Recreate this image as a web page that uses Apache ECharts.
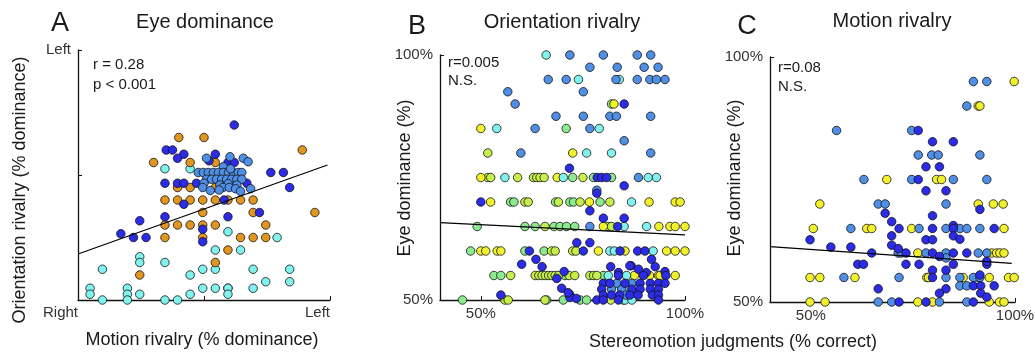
<!DOCTYPE html>
<html><head><meta charset="utf-8">
<script src="https://cdn.jsdelivr.net/npm/echarts@6/dist/echarts.min.js"></script>
<style>html,body{margin:0;padding:0;background:#fff}#c{width:1035px;height:354px}</style>
</head><body><div id="c"></div>
<script>
// ---------- Panel A: Eye dominance (x: motion rivalry %, y: orientation rivalry %) ----------
const aOrange = [[40,65],[50,65],[89,60],[30,55],[44.5,55],[54.5,55],[39.5,45],[44.5,45],[54.5,45],[34.5,40],[39.5,40],[44.5,40],[49.5,40],[54.5,40],[59.5,40],[64.5,40],[69.5,40],[49.5,35],[69.5,35],[94,35],[34.5,30],[39.5,30],[44.5,30],[49.5,30],[54.5,30],[74.5,30],[34.5,25],[49.5,25],[64.5,25],[69.5,25],[74.5,25],[59.5,20],[54.5,15],[24.5,10]];
const aDarkBlue = [[62,70],[35,60],[37.5,60],[42,58.3],[54.5,58.3],[39.5,56.7],[52,55.7],[59.5,55],[62,55],[76.5,51],[81.5,51],[34.5,46.7],[39.5,46.7],[42,46.7],[47,46.7],[67,46.7],[84,45],[58,40],[42,38.3],[72,35],[59.5,33.3],[34.5,33.3],[24.5,31.7],[49.5,28.3],[17,26.5],[22,25],[27,25],[49.5,23.3],[59.5,50]];
const aMedBlue = [[51,56.7],[60.3,57.3],[65.6,56.7],[67.5,55.3],[57.7,53.3],[47.7,51],[49.7,51],[51.7,51],[53.7,51],[55.7,51],[57.7,51],[59.7,51],[61.6,51],[63.6,51],[65,51],[51,48.3],[53,48.3],[55,48.3],[57,48.3],[59,48.3],[61,48.3],[63,48.3],[65,48.3],[50,46.7],[56.3,46],[59.6,46.5],[63,46],[49.5,45],[57.5,45],[60,45],[62.5,44.5],[68.5,44.5],[52.5,43.8],[56,44],[64.5,43.5],[60.5,52.5]];
const aCyan = [[34.5,52.5],[44.5,52.5],[59.5,27.3],[79,25],[54.5,20],[64.5,20],[24.5,17.3],[24.5,15],[34.5,15],[9.7,12.3],[49.5,12.3],[54.5,12.3],[69.5,12.3],[84,12.3],[44.5,10],[74.5,7.3],[84,7.3],[4.8,4.7],[19.6,4.7],[49.5,4.7],[54.5,4.7],[59.5,4.7],[59.5,4.7],[69.5,4.7],[4.8,2.3],[19.6,2.3],[24.5,2.3],[44.5,2.3],[59.5,2.3],[9.7,0],[19.6,0],[34.5,0],[39.5,0]];
const aFit = [[0,18.4],[99,54]];

// ---------- Panel B: Orientation rivalry (x: stereomotion % correct, y: eye dominance %) ----------
const bYellow = [[82.6,90],[50,85],[72.5,80],[50,75],[68.7,75],[52.4,70],[76.6,70],[91.2,70],[97.6,70],[98.8,70],[80,65],[93.6,65],[96.3,65],[97.6,65],[100,65],[50,60],[51.2,60],[54,60],[54.9,60],[78.8,60],[85.3,60],[95.5,60],[97.6,60],[100,60],[87.6,55],[91.3,55],[93.5,55],[93.9,55],[97.6,55]];
const bYellowGreen = [[51.7,80],[51.7,75],[52.4,75],[59,75],[62.9,75],[63.7,75],[64.5,75],[65.5,75],[75,75],[60.8,70],[61.6,70],[69,70],[74.3,70],[81.6,70],[65.7,65],[81.2,65],[82,65],[67.3,60],[68.2,60],[72.5,60],[73.3,60],[57.3,55],[63.3,55],[64.2,55],[65,55],[65.8,55],[66.6,55],[67.4,55],[68.2,55],[69,55],[71.6,55],[73,55],[76.7,55],[77.6,55],[78.4,55],[55.9,50],[56.7,50],[65.7,50],[81.8,50]];
const bGreen = [[82,90],[70.9,85],[72.5,75],[77.6,75],[82,75],[57.3,70],[58.1,70],[68.3,70],[71.8,70],[72.7,70],[79.2,70],[49.1,65],[60.8,65],[63.3,65],[67.9,65],[69.4,65],[71,65],[73,65],[47.5,60],[60.8,60],[65.5,60],[53.2,55],[54.9,55],[70.6,55],[80,55],[45.5,50],[66.1,50],[70.2,50],[74.3,50],[75.9,50]];
const bCyan = [[66,100],[73.9,95],[83.9,95],[53.9,85],[79,85],[75.9,80],[82,80],[55.9,75],[70.2,75],[91,75],[93,75],[86.9,70],[85.1,65],[90.6,65],[81.6,60],[82.7,60],[92.2,60],[81.2,55],[85.7,55],[84.9,50],[85.3,50],[87,50],[85.3,52.2]];
const bMedBlue = [[71.8,100],[80,100],[88.3,100],[91.6,100],[76.7,97.5],[83.4,97.5],[90,97.5],[93.4,97.5],[66.5,95],[70.9,95],[83.1,95],[88.3,95],[91.4,95],[93,95],[95.1,95],[56.6,92.5],[75.1,92.5],[58.4,90],[68.4,87.5],[75.1,87.5],[81.6,87.5],[83.2,87.5],[91.6,87.5],[63.3,85],[76.7,85],[85.1,82.5],[59.8,80],[91.6,80],[88.6,75],[78.4,72.4],[76.7,65],[83.3,53.4],[87,53.4],[82,52.2],[84.5,52.2],[85.5,51]];
const bDarkBlue = [[85.1,90],[71.7,76.9],[78.5,75],[79.6,75],[80.8,75],[85.1,73.3],[78.4,71.8],[50,70],[76.7,68.2],[80,66.7],[85.1,66.7],[83.5,65],[73.5,61.7],[76.7,61.7],[61.9,60],[75.1,60],[84.1,60],[88.4,60],[90.2,60],[63.5,58.3],[60,57.3],[65,56.8],[81.8,56.8],[86.8,57],[91.8,58.3],[83.7,55.6],[86.5,57],[88.6,56.3],[90.5,55.6],[92.7,56.8],[95.1,55.8],[70.4,55.8],[68.6,54.4],[83.7,55],[89.8,55],[95.3,55],[80,53.4],[81.6,53.4],[85.3,53.4],[89,53.4],[91.5,53.4],[93.5,53.4],[95.1,53.4],[79.6,52.2],[87,52.2],[89,52.2],[91.5,52.2],[93.5,52.2],[80,51],[82,51],[84,51],[86.5,51],[88.5,51],[92,51],[93.5,51],[78.4,50],[80,50],[83.7,50],[93.5,50],[69.8,52.4],[71.8,51.1],[71.8,50.5],[73.4,50.3],[54.9,51],[71.4,51.5]];
const bFit = [[40,65.8],[100,63.3]];

// ---------- Panel C: Motion rivalry ----------
const cYellow = [[99.8,95],[91,90],[91.4,90],[68.6,75],[80.8,75],[82,75],[52.2,70],[91,70],[94.7,70],[97.1,70],[50.6,65],[63.7,65],[64.9,65],[74.7,65],[97.3,65],[76.2,60],[94.3,60],[95.5,60],[96.3,60],[97.3,60],[49.8,55],[52.2,55],[60.8,55],[78.4,55],[78.8,55],[87.3,55],[91,55],[93.7,55],[98.4,55],[99.8,55],[49.8,50],[53.5,50],[76.2,50],[79.8,50],[93.7,50],[96.2,50],[97.3,50]];
const cMedBlue = [[89.8,95],[93.1,95],[88.2,90],[56.3,85],[74.7,85],[76.3,80],[79.6,80],[81.2,80],[91.4,80],[63,75],[74.7,75],[84.9,75],[93.1,75],[66.5,70],[68.2,70],[83.1,70],[59.8,65],[76.5,65],[83.1,65],[86.5,65],[88.2,65],[91.4,65],[71.4,60],[72.2,60],[78.2,60],[83.1,60],[91,60],[93.1,60],[83.1,59],[58.1,55],[71.6,55],[83.1,55],[86.5,55],[89.8,55],[91.4,55],[86.5,53.3],[88.2,53.3],[66.5,50],[69.8,50],[81.5,50],[88.2,50]];
const cDarkBlue = [[76.3,85],[79.8,82.7],[84.9,82.7],[78.2,77.6],[81.5,77.6],[76.3,75],[78.2,72.7],[83.1,72.7],[91.4,68.9],[68.2,68.1],[79.8,67.6],[69.8,66.4],[84.9,65.6],[71.6,65],[79.8,65],[84.9,65],[94.9,65],[69.8,63.5],[84.9,63.5],[86.5,62.8],[49.8,62.7],[78.2,62.7],[79.8,62.7],[69.8,61.6],[54.9,61.2],[59.8,61.2],[71.4,60.9],[64.9,60],[73.3,60],[79.8,60],[84.9,60],[88.2,60],[81.5,59.3],[61.5,57.7],[62.9,57.7],[73.3,57.7],[76.5,57.7],[84.9,57.7],[93.1,57.7],[93.1,58.3],[79.8,56.5],[83.1,56.5],[79.8,55],[91.4,55.5],[89.8,53.3],[91.6,53.3],[94.9,53.3],[66.5,52.7],[83.1,52.7],[81.5,51.8],[91.6,51.8],[93.1,51],[71.6,50],[78.2,50],[89.8,50]];
const cFit = [[40,61.3],[99.2,57.9]];

// tick labels
const aXLabels = {0:'Right', 100:'Left'};
const aYLabels = {100:'Left'};
const pctTicks = [50,100];

const COL = {orange:'#E0961F', dark:'#2B2BE8', med:'#4F8FE6', cyan:'#80F3EE', yellow:'#F2F22C', yg:'#C6EF4C', green:'#8CEB8E'};
const FONT = "'Liberation Sans', Arial, Helvetica, sans-serif";
const TXT = '#1a1a1a';

const chart = echarts.init(document.getElementById('c'), null, {renderer:'canvas'});

function axisCommon(){
  return {
    axisLine:{show:true,onZero:false,lineStyle:{color:'#111',width:1.3}},
    axisTick:{show:true,inside:true,length:4,lineStyle:{color:'#111',width:1}},
    splitLine:{show:false},
    axisLabel:{fontFamily:FONT,fontSize:15,color:'#333'}
  };
}
function xAx(i,min,max,labels,ticks,extra){
  const c=axisCommon();
  return Object.assign({type:'value',gridIndex:i,min:min,max:max,
    axisLine:c.axisLine,
    axisTick:Object.assign({},c.axisTick,{customValues:ticks}),
    splitLine:c.splitLine,
    axisLabel:Object.assign({},c.axisLabel,{customValues:labels.vals,formatter:labels.fmt,margin:6})},extra||{});
}
function yAx(i,min,max,labels,ticks,extra){
  const c=axisCommon();
  return Object.assign({type:'value',gridIndex:i,min:min,max:max,
    axisLine:c.axisLine,
    axisTick:Object.assign({},c.axisTick,{customValues:ticks}),
    splitLine:c.splitLine,
    axisLabel:Object.assign({},c.axisLabel,{customValues:labels.vals,formatter:labels.fmt,margin:7})},extra||{});
}
const pctFmt = v => Math.round(v)+'%';

function sc(name,data,color,xi){
  return {type:'scatter',name:name,xAxisIndex:xi,yAxisIndex:xi,data:data,symbol:'circle',symbolSize:8.5,
    itemStyle:{color:color,borderColor:'#111',borderWidth:0.8,opacity:1},silent:true,animation:false};
}
function fit(data,xi){
  return {type:'line',xAxisIndex:xi,yAxisIndex:xi,data:data,symbol:'none',lineStyle:{color:'#000',width:1.2},silent:true,animation:false,z:5};
}
function txt(x,y,s,size,opts){
  return Object.assign({type:'text',x:x,y:y,silent:true,
    style:Object.assign({text:s,font:size+'px '+FONT,fill:TXT,align:'center',verticalAlign:'middle'},(opts&&opts.style)||{})},
    opts&&opts.rotation!==undefined?{rotation:opts.rotation}:{});
}

chart.setOption({
  animation:false,
  backgroundColor:'#fff',
  grid:[
    {left:78,top:50,width:252,height:250,outerBoundsMode:'none',containLabel:false},
    {left:440,top:55,width:245,height:245,outerBoundsMode:'none',containLabel:false},
    {left:770,top:57,width:245,height:245,outerBoundsMode:'none',containLabel:false}
  ],
  xAxis:[
    xAx(0,0,100,{vals:[0,100],fmt:v=>aXLabels[v]||''},[50,100],{axisLabel:{fontFamily:FONT,fontSize:15,color:'#333',customValues:[0,100],formatter:v=>aXLabels[v]||'',margin:5,alignMinLabel:'right',alignMaxLabel:'right'}}),
    xAx(1,40,100,{vals:pctTicks,fmt:pctFmt},pctTicks),
    xAx(2,40,100,{vals:pctTicks,fmt:pctFmt},pctTicks)
  ],
  yAxis:[
    yAx(0,0,100,{vals:[100],fmt:v=>aYLabels[v]||''},[50,100]),
    yAx(1,50,100,{vals:pctTicks,fmt:pctFmt},pctTicks),
    yAx(2,50,100,{vals:pctTicks,fmt:pctFmt},pctTicks)
  ],
  series:[
    sc('A cyan',aCyan,COL.cyan,0),
    sc('A orange',aOrange,COL.orange,0),
    sc('A dark',aDarkBlue,COL.dark,0),
    sc('A med',aMedBlue,COL.med,0),
    fit(aFit,0),
    sc('B green',bGreen,COL.green,1),
    sc('B yg',bYellowGreen,COL.yg,1),
    sc('B yellow',bYellow,COL.yellow,1),
    sc('B cyan',bCyan,COL.cyan,1),
    sc('B med',bMedBlue,COL.med,1),
    sc('B dark',bDarkBlue,COL.dark,1),
    fit(bFit,1),
    sc('C yellow',cYellow,COL.yellow,2),
    sc('C med',cMedBlue,COL.med,2),
    sc('C dark',cDarkBlue,COL.dark,2),
    fit(cFit,2)
  ],
  graphic:[
    txt(60,24,'A',27),
    txt(205,22,'Eye dominance',20),
    txt(417,27,'B',27),
    txt(562,22,'Orientation rivalry',20),
    txt(747,27,'C',27),
    txt(892,21,'Motion rivalry',20),
    txt(93,65,'r = 0.28',15,{style:{align:'left'}}),
    txt(93,85,'p < 0.001',15,{style:{align:'left'}}),
    txt(448,63,'r=0.005',15,{style:{align:'left'}}),
    txt(448,81,'N.S.',15,{style:{align:'left'}}),
    txt(778,68,'r=0.08',15,{style:{align:'left'}}),
    txt(778,87,'N.S.',15,{style:{align:'left'}}),
    txt(20,190,'Orientation rivalry (% dominance)',18,{rotation:Math.PI/2}),
    txt(202,340,'Motion rivalry (% dominance)',18),
    txt(405,178,'Eye dominance (%)',18,{rotation:Math.PI/2}),
    txt(735,178,'Eye dominance (%)',18,{rotation:Math.PI/2}),
    txt(733,342,'Stereomotion judgments (% correct)',18)
  ]
});
</script></body></html>
